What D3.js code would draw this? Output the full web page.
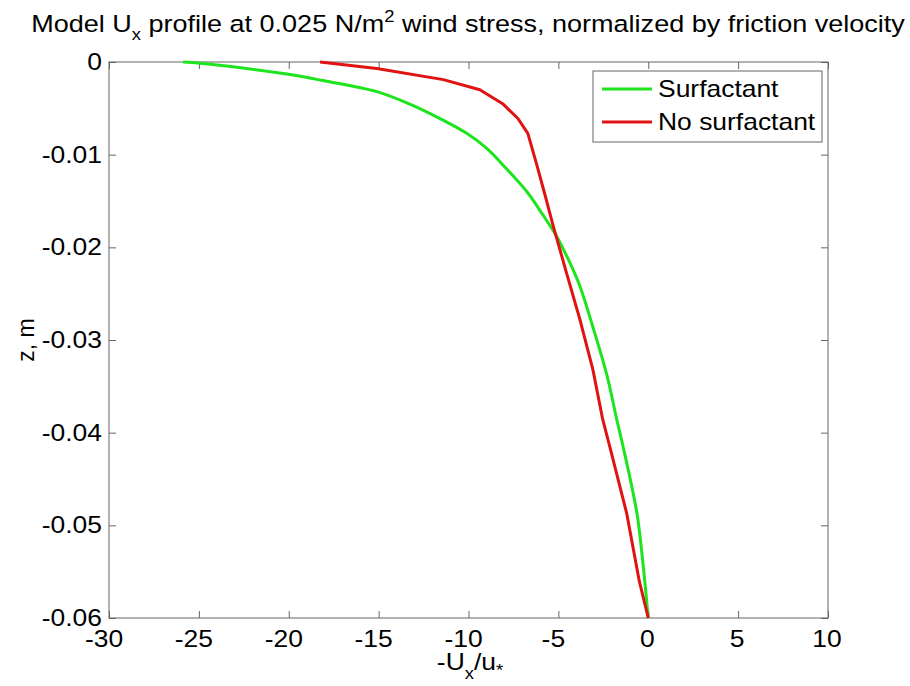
<!DOCTYPE html>
<html>
<head>
<meta charset="utf-8">
<script src="https://cdn.jsdelivr.net/npm/d3@7"></script>
<style>
  body { margin: 0; background: #fff; }
  text { font-family: "Liberation Sans", Arial, sans-serif; fill: #000; }
</style>
</head>
<body>
<div id="chart"></div>
<script>
// values: -Ux/u* against depth z (m)
const surfX = [-25.88, -24.9, -20.1, -18.1, -15.1, -13.2, -11.5, -10.1, -9.0, -7.9, -6.75, -5.86, -5.1, -4.4, -3.8, -3.08, -2.3, -1.75, -1.4, -0.63, -0.3, 0]
const surfZ = [0, -0.00014, -0.0013, -0.0020, -0.0032, -0.0046, -0.0062, -0.0077, -0.0093, -0.0115, -0.0140, -0.0165, -0.0188, -0.0215, -0.0242, -0.0286, -0.0338, -0.0386, -0.0415, -0.0487, -0.054, -0.06]
const noSurfX = [-18.26, -15.1, -11.4, -9.37, -8.1, -7.25, -6.7, -6.2, -5.75, -5.3, -4.6, -3.8, -3.08, -2.53, -2.14, -1.2, -0.5, 0]
const noSurfZ = [0, -0.0007, -0.0019, -0.0030, -0.0045, -0.0061, -0.0077, -0.0111, -0.0143, -0.0176, -0.0224, -0.0278, -0.0332, -0.0386, -0.0415, -0.0487, -0.056, -0.06]
const xTicks = [-30, -25, -20, -15, -10, -5, 0, 5, 10]
const yTicks = [0, -0.01, -0.02, -0.03, -0.04, -0.05, -0.06]
const seriesNames = ['Surfactant', 'No surfactant']
const seriesColors = ['#1ee41e', '#e01212']

const W = 910, H = 686
const m = { top: 62, right: 82, bottom: 68, left: 109 }
const w = W - m.left - m.right
const h = H - m.top - m.bottom
const sx = 1.15 // the figure's lettering is a little wide
const fs = 23

const svg = d3.select('#chart').append('svg').attr('width', W).attr('height', H)
const g = svg.append('g').attr('transform', `translate(${m.left},${m.top})`)

const x = d3.scaleLinear().domain([-30, 10]).range([0, w])
const y = d3.scaleLinear().domain([-0.06, 0]).range([h, 0])

const fmtY = d => d === 0 ? '0' : d3.format('.2f')(d).replace('\u2212', '-')
const axisColor = '#666'

function label(parent, px, py, anchor, size) {
  return parent.append('g').attr('transform', `translate(${px},${py}) scale(${sx},1)`)
    .append('text').attr('text-anchor', anchor).style('font-size', size + 'px')
}

// ticks inward on all four sides (matlab box)
const tl = 7
g.append('g').call(d3.axisBottom(x).tickValues(xTicks).tickSize(-tl).tickFormat(''))
  .attr('transform', `translate(0,${h})`)
g.append('g').call(d3.axisTop(x).tickValues(xTicks).tickSize(-tl).tickFormat(''))
g.append('g').call(d3.axisLeft(y).tickValues(yTicks).tickSize(-tl).tickFormat(''))
g.append('g').call(d3.axisRight(y).tickValues(yTicks).tickSize(-tl).tickFormat(''))
  .attr('transform', `translate(${w},0)`)
g.selectAll('.domain').remove()
g.selectAll('.tick line').attr('stroke', axisColor)
g.append('rect').attr('width', w).attr('height', h)
  .attr('fill', 'none').attr('stroke', axisColor).attr('stroke-width', 1)

// tick labels
xTicks.forEach(d => {
  label(g, x(d) - (d < 0 ? 5 : 1), h + 29, 'middle', fs).text(String(d).replace('\u2212', '-'))
})
yTicks.forEach(d => {
  label(g, -7, y(d) + 8, 'end', fs).text(fmtY(d))
})

// lines
const smooth = d3.line().x(d => x(d[0])).y(d => y(d[1])).curve(d3.curveCatmullRom.alpha(0.5))
const straight = d3.line().x(d => x(d[0])).y(d => y(d[1]))
const series = [
  d3.zip(surfX, surfZ),
  d3.zip(noSurfX, noSurfZ)
]
g.selectAll('.line').data(series).enter().append('path')
  .attr('class', 'line')
  .attr('fill', 'none')
  .attr('stroke', (d, i) => seriesColors[i])
  .attr('stroke-width', 3)
  .attr('stroke-linejoin', 'round')
  .attr('d', (d, i) => i === 0 ? smooth(d) : straight(d))

// legend
const lg = g.append('g').attr('transform', `translate(${w - 235},9)`)
lg.append('rect').attr('width', 229).attr('height', 71)
  .attr('fill', '#fff').attr('stroke', axisColor)
seriesNames.forEach((name, i) => {
  const cy = 18 + i * 33
  lg.append('line').attr('x1', 9).attr('x2', 59).attr('y1', cy).attr('y2', cy)
    .attr('stroke', seriesColors[i]).attr('stroke-width', 3)
  label(lg, 65, cy + 8, 'start', fs).text(name)
})

// title
const title = label(svg, 468, 32, 'middle', 23.5)
title.append('tspan').text('Model U')
title.append('tspan').attr('dy', 8).style('font-size', '16px').text('x')
title.append('tspan').attr('dy', -8).text(' profile at 0.025 N/m')
title.append('tspan').attr('dy', -10).style('font-size', '16px').text('2')
title.append('tspan').attr('dy', 10).text(' wind stress, normalized by friction velocity')

// axis labels
const xl = label(svg, 470, 670, 'middle', fs)
xl.append('tspan').text('-U')
xl.append('tspan').attr('dy', 9).style('font-size', '16px').text('x')
xl.append('tspan').attr('dy', -9).text('/u')
xl.append('tspan').attr('dy', 6).style('font-size', '16px').text('*')

svg.append('g').attr('transform', `translate(34,${m.top + h / 2}) rotate(-90)`)
  .append('text').attr('text-anchor', 'middle').style('font-size', fs + 'px').text('z, m')
</script>
</body>
</html>
